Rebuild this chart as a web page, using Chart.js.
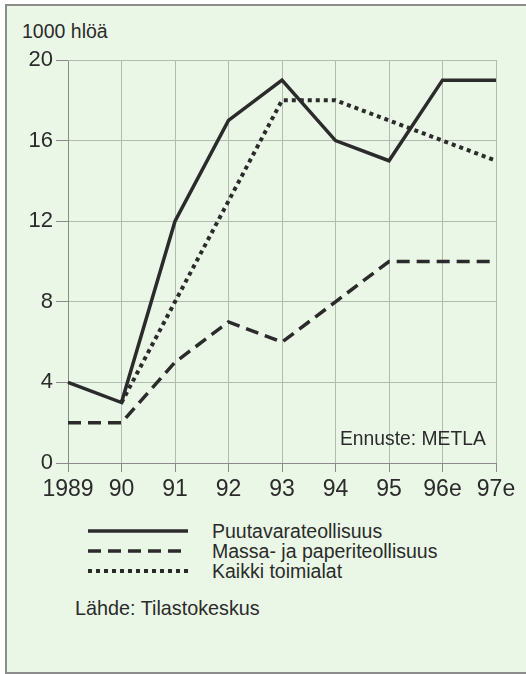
<!DOCTYPE html>
<html>
<head>
<meta charset="utf-8">
<script src="https://cdn.jsdelivr.net/npm/chart.js@4"></script>
<style>
  html, body { margin: 0; overflow: hidden; }
  body { background: #fff; font-family: "Liberation Sans", Arial, sans-serif; color: #2b2b2b; }
  .frame { position: absolute; left: 5px; top: 4px; width: 540px; height: 666px; border: 2px solid #8c8c8c; border-right: none; background: #eaf7e6; }
  .wrap { position: absolute; left: 0; top: 0; width: 526px; height: 520px; }
  .unit { position: absolute; left: 22px; top: 20px; font-size: 19.5px; }
  .note { position: absolute; left: 340px; top: 428px; font-size: 19.3px; }
  .legend { position: absolute; left: 88px; top: 521px; font-size: 19.5px; }
  .legend div { height: 20px; line-height: 20px; display: flex; align-items: center; }
  .legend svg { margin-right: 24px; }
  .source { position: absolute; left: 75px; top: 597px; font-size: 19.8px; }
</style>
</head>
<body>
<div class="frame"></div>
<div class="unit">1000 hlöä</div>
<div class="wrap"><canvas id="chart" width="526" height="520"></canvas></div>
<div class="note">Ennuste: METLA</div>
<div class="legend" id="legend"></div>
<div class="source">Lähde: Tilastokeskus</div>
<script>
const years = ["1989", "90", "91", "92", "93", "94", "95", "96e", "97e"];
const puutavara = [4, 3, 12, 17, 19, 16, 15, 19, 19];
const massaPaperi = [2, 2, 5, 7, 6, 8, 10, 10, 10];
const kaikki = [null, 3, 8, 13, 18, 18, 17, 16, 15];
const yTicks = [0, 4, 8, 12, 16, 20];

const ink = "#2b2b2b";
const series = [
    { label: "Puutavarateollisuus", data: puutavara, dash: [], width: 3.5 },
    { label: "Massa- ja paperiteollisuus", data: massaPaperi, dash: [13, 7], width: 3.5 },
    { label: "Kaikki toimialat", data: kaikki, dash: [4, 4], width: 4 }
];

new Chart(document.getElementById("chart"), {
    type: "line",
    data: {
        labels: years,
        datasets: series.map(s => ({
            label: s.label,
            data: s.data,
            borderColor: ink,
            borderWidth: s.width,
            borderDash: s.dash,
            borderCapStyle: "butt",
            pointRadius: 0,
            tension: 0,
            fill: false
        }))
    },
    options: {
        responsive: false,
        animation: false,
        layout: { padding: { left: 0, right: 30, top: 60, bottom: 0 } },
        plugins: { legend: { display: false }, tooltip: { enabled: false } },
        scales: {
            x: {
                offset: false,
                afterFit: s => { s.height = 57; },
                grid: { color: "#b2bbaf", lineWidth: 1, tickLength: 9, tickColor: "#8a8a8a" },
                border: { color: "#8a8a8a", width: 1 },
                ticks: { color: ink, font: { size: 23, family: "Liberation Sans" }, padding: 4, maxRotation: 0, autoSkip: false }
            },
            y: {
                min: 0,
                max: 20,
                afterFit: s => { s.width = 68; },
                afterBuildTicks: s => { s.ticks = yTicks.map(v => ({ value: v })); },
                grid: { color: "#b2bbaf", lineWidth: 1, tickLength: 12, tickColor: "#8a8a8a" },
                border: { color: "#8a8a8a", width: 1 },
                ticks: { color: ink, font: { size: 22, family: "Liberation Sans" }, padding: 3 }
            }
        }
    },
    plugins: [{
        id: "topEdge",
        afterDraw(chart) {
            const a = chart.chartArea, c = chart.ctx;
            c.save();
            c.strokeStyle = "#b2bbaf";
            c.lineWidth = 1;
            c.beginPath();
            c.moveTo(a.left, a.top + 0.5);
            c.lineTo(a.right, a.top + 0.5);
            c.stroke();
            c.restore();
        }
    }]
});

const legend = document.getElementById("legend");
series.forEach(s => {
    const row = document.createElement("div");
    row.innerHTML = `<svg width="100" height="8"><line x1="0" y1="4" x2="100" y2="4" stroke="${ink}" stroke-width="${s.width}" stroke-dasharray="${s.dash.join(",")}"/></svg><span>${s.label}</span>`;
    legend.appendChild(row);
});
</script>
</body>
</html>
